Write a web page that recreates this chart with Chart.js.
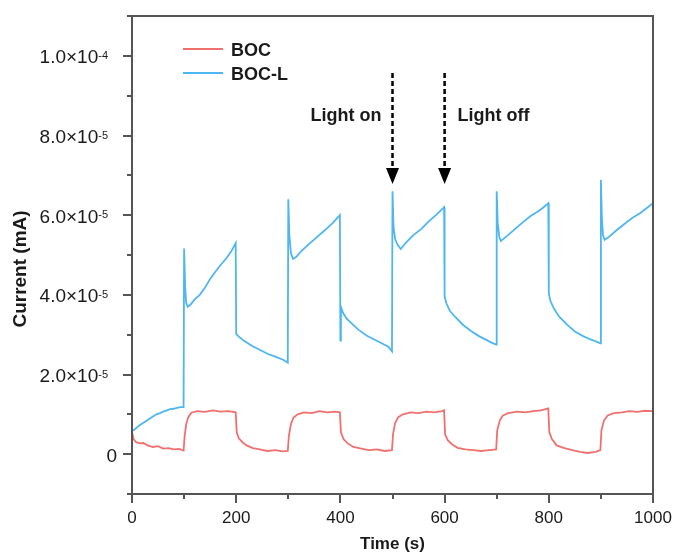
<!DOCTYPE html>
<html>
<head>
<meta charset="utf-8">
<script src="https://cdn.jsdelivr.net/npm/chart.js@4.4.1/dist/chart.umd.min.js"></script>
<style>
  html, body { margin: 0; padding: 0; background: #ffffff; }
  #wrap { width: 675px; height: 554px; position: relative; }
</style>
</head>
<body>
<div id="wrap"><canvas id="c" width="675" height="554"></canvas></div>
<script>
// ---- data (time in s, current in mA) ----
const seriesNames = ["BOC", "BOC-L"];
const xTickValues = [0, 200, 400, 600, 800, 1000];
const yTickValues = [0, 2e-5, 4e-5, 6e-5, 8e-5, 1e-4];
const yTickMantissa = ["0", "2.0×10", "4.0×10", "6.0×10", "8.0×10", "1.0×10"];
const yTickExponent = ["", "-5", "-5", "-5", "-5", "-4"];
const annotationTimes = [500, 600];
const annotationLabels = ["Light on", "Light off"];

const bocTime = [0,3,8,15,22,30,40,50,60,70,80,90,99,
  101,104,108,114,125,140,155,170,185,199,
  201,205,212,220,232,245,260,275,290,299,
  301,305,310,318,330,345,360,375,390,399,
  401,406,414,425,440,455,470,485,499,
  501,505,511,520,535,550,565,580,595,599,
  601,606,614,625,640,655,670,685,699,
  701,706,712,722,740,755,770,785,799,
  801,806,815,830,845,860,875,890,899,
  901,906,913,925,940,955,970,985,1000];
const bocCurrent = [0.56e-5,0.38e-5,0.3e-5,0.27e-5,0.28e-5,0.22e-5,0.18e-5,0.2e-5,0.14e-5,0.15e-5,0.12e-5,0.13e-5,0.09e-5,
  0.45e-5,0.75e-5,0.93e-5,1.04e-5,1.08e-5,1.06e-5,1.1e-5,1.07e-5,1.08e-5,1.05e-5,
  0.55e-5,0.4e-5,0.3e-5,0.22e-5,0.15e-5,0.12e-5,0.08e-5,0.1e-5,0.07e-5,0.08e-5,
  0.45e-5,0.75e-5,0.92e-5,1.0e-5,1.05e-5,1.03e-5,1.08e-5,1.05e-5,1.07e-5,1.05e-5,
  0.55e-5,0.38e-5,0.27e-5,0.18e-5,0.14e-5,0.1e-5,0.12e-5,0.08e-5,0.1e-5,
  0.5e-5,0.78e-5,0.93e-5,1.0e-5,1.05e-5,1.03e-5,1.07e-5,1.05e-5,1.08e-5,1.1e-5,
  0.5e-5,0.35e-5,0.25e-5,0.16e-5,0.12e-5,0.1e-5,0.08e-5,0.1e-5,0.12e-5,
  0.6e-5,0.85e-5,0.97e-5,1.03e-5,1.07e-5,1.05e-5,1.08e-5,1.1e-5,1.15e-5,
  0.55e-5,0.38e-5,0.22e-5,0.15e-5,0.1e-5,0.06e-5,0.03e-5,0.06e-5,0.1e-5,
  0.6e-5,0.85e-5,0.97e-5,1.03e-5,1.05e-5,1.08e-5,1.06e-5,1.09e-5,1.08e-5];

const boclTime = [0,5,10,16,22,28,35,41,47,54,60,67,73,80,86,93,99,
  100,102,104,107,112,120,130,140,150,160,170,180,190,199,
  200,205,215,230,245,260,275,290,299,
  300,302,305,309,315,325,340,355,370,385,399,
  400,401,405,412,420,435,450,465,480,492,499,
  500,502,505,510,516,525,540,555,570,585,599,
  600,603,610,620,635,650,665,680,690,699,
  700,702,705,708,720,735,750,765,780,790,799,
  800,803,810,820,835,850,865,880,890,899,
  900,902,904,907,915,930,945,960,975,990,1000];
const boclCurrent = [0.58e-5,0.62e-5,0.68e-5,0.74e-5,0.79e-5,0.84e-5,0.9e-5,0.95e-5,1.0e-5,1.03e-5,1.07e-5,1.1e-5,1.13e-5,1.14e-5,1.16e-5,1.18e-5,1.18e-5,
  5.16e-5,4.2e-5,3.8e-5,3.7e-5,3.75e-5,3.88e-5,4.0e-5,4.18e-5,4.4e-5,4.58e-5,4.75e-5,4.9e-5,5.08e-5,5.3e-5,
  3.02e-5,2.95e-5,2.85e-5,2.72e-5,2.62e-5,2.52e-5,2.45e-5,2.37e-5,2.3e-5,
  6.4e-5,5.5e-5,5.05e-5,4.9e-5,4.95e-5,5.1e-5,5.28e-5,5.45e-5,5.62e-5,5.8e-5,6.0e-5,
  2.85e-5,3.7e-5,3.55e-5,3.4e-5,3.3e-5,3.12e-5,2.98e-5,2.88e-5,2.78e-5,2.7e-5,2.58e-5,
  6.6e-5,5.7e-5,5.4e-5,5.25e-5,5.15e-5,5.3e-5,5.5e-5,5.65e-5,5.85e-5,6.02e-5,6.2e-5,
  3.97e-5,3.8e-5,3.6e-5,3.45e-5,3.25e-5,3.1e-5,2.97e-5,2.87e-5,2.8e-5,2.75e-5,
  6.6e-5,5.8e-5,5.45e-5,5.35e-5,5.48e-5,5.65e-5,5.82e-5,5.98e-5,6.1e-5,6.2e-5,6.3e-5,
  4.05e-5,3.85e-5,3.65e-5,3.45e-5,3.25e-5,3.08e-5,2.97e-5,2.88e-5,2.83e-5,2.78e-5,
  6.88e-5,5.9e-5,5.5e-5,5.38e-5,5.45e-5,5.62e-5,5.78e-5,5.93e-5,6.05e-5,6.2e-5,6.3e-5];

// ---- styles ----
const FONT = '"Liberation Sans", Arial, Helvetica, sans-serif';
const AXIS_COLOR = '#555555';
const TEXT_COLOR = '#1a1a1a';
const RED = 'rgb(240,112,112)';
const BLUE = 'rgb(78,182,240)';

function toXY(ts, vs) { return ts.map((t, i) => ({ x: t, y: vs[i] })); }

const decorPlugin = {
  id: 'decor',
  afterDatasetsDraw(chart) {
    const ctx = chart.ctx;
    const xs = chart.scales.x, ys = chart.scales.y;
    const a = chart.chartArea;
    ctx.save();
    // frame
    ctx.strokeStyle = AXIS_COLOR;
    ctx.lineWidth = 2;
    ctx.strokeRect(a.left, a.top, a.right - a.left, a.bottom - a.top);
    // y ticks
    for (let v = -1; v <= 11; v++) {
      const py = Math.round(ys.getPixelForValue(v * 1e-5));
      const len = (v % 2 === 0) ? 9 : 5;
      ctx.beginPath(); ctx.moveTo(a.left - len, py); ctx.lineTo(a.left, py); ctx.stroke();
    }
    // x ticks
    for (let t = 0; t <= 1000; t += 100) {
      const px = Math.round(xs.getPixelForValue(t));
      const len = (t % 200 === 0) ? 9 : 5;
      ctx.beginPath(); ctx.moveTo(px, a.bottom); ctx.lineTo(px, a.bottom + len); ctx.stroke();
    }
    // x labels
    ctx.fillStyle = TEXT_COLOR;
    ctx.font = '17px ' + FONT;
    ctx.textAlign = 'center';
    ctx.textBaseline = 'alphabetic';
    xTickValues.forEach(t => {
      ctx.fillText(String(t), xs.getPixelForValue(t), a.bottom + 29);
    });
    // y labels with superscripts
    yTickValues.forEach((v, i) => {
      const py = ys.getPixelForValue(v);
      if (!yTickExponent[i]) {
        ctx.font = '19px ' + FONT;
        ctx.textAlign = 'right';
        ctx.fillText(yTickMantissa[i], a.left - 15, py + 7.5);
      } else {
        ctx.font = '11px ' + FONT;
        ctx.textAlign = 'right';
        const expX = a.left - 24;
        ctx.fillText(yTickExponent[i], expX, py + 3);
        const ew = ctx.measureText(yTickExponent[i]).width;
        ctx.font = '19px ' + FONT;
        ctx.fillText(yTickMantissa[i], expX - ew, py + 7.5);
      }
    });
    // axis titles
    ctx.font = 'bold 17px ' + FONT;
    ctx.textAlign = 'center';
    ctx.fillText('Time (s)', (a.left + a.right) / 2, 549);
    ctx.save();
    ctx.translate(26, 269);
    ctx.rotate(-Math.PI / 2);
    ctx.font = 'bold 19px ' + FONT;
    ctx.fillText('Current (mA)', 0, 0);
    ctx.restore();
    // legend
    const legendColors = [RED, BLUE];
    seriesNames.forEach((n, i) => {
      const ly = 49 + i * 24;
      ctx.strokeStyle = legendColors[i];
      ctx.lineWidth = 1.8;
      ctx.beginPath(); ctx.moveTo(183, ly); ctx.lineTo(223, ly); ctx.stroke();
      ctx.fillStyle = TEXT_COLOR;
      ctx.font = 'bold 18px ' + FONT;
      ctx.textAlign = 'left';
      ctx.fillText(n, 231, ly + 6.5);
    });
    // annotation arrows
    annotationTimes.forEach((t, i) => {
      const px = xs.getPixelForValue(t);
      const yTop = 73, yHead = 168, yTip = 184;
      ctx.strokeStyle = '#000';
      ctx.lineWidth = 2.5;
      ctx.setLineDash([5, 3]);
      ctx.beginPath(); ctx.moveTo(px, yTop); ctx.lineTo(px, yHead); ctx.stroke();
      ctx.setLineDash([]);
      ctx.fillStyle = '#000';
      ctx.beginPath();
      ctx.moveTo(px - 6.5, yHead); ctx.lineTo(px + 6.5, yHead); ctx.lineTo(px, yTip); ctx.closePath(); ctx.fill();
      ctx.font = 'bold 18px ' + FONT;
      ctx.fillStyle = TEXT_COLOR;
      if (i === 0) { ctx.textAlign = 'right'; ctx.fillText(annotationLabels[i], px - 11, 121); }
      else { ctx.textAlign = 'left'; ctx.fillText(annotationLabels[i], px + 13, 121); }
    });
    ctx.restore();
  }
};

new Chart(document.getElementById('c'), {
  type: 'line',
  data: {
    datasets: [
      { label: seriesNames[0], data: toXY(bocTime, bocCurrent), borderColor: RED, borderWidth: 1.8, pointRadius: 0, tension: 0, fill: false },
      { label: seriesNames[1], data: toXY(boclTime, boclCurrent), borderColor: BLUE, borderWidth: 1.8, pointRadius: 0, tension: 0, fill: false }
    ]
  },
  options: {
    responsive: false,
    animation: false,
    devicePixelRatio: 1,
    layout: { padding: { left: 132, top: 16, right: 22, bottom: 60 } },
    plugins: { legend: { display: false }, tooltip: { enabled: false } },
    scales: {
      x: { type: 'linear', min: 0, max: 1000, display: false },
      y: { type: 'linear', min: -1e-5, max: 1.1e-4, display: false }
    }
  },
  plugins: [decorPlugin]
});
</script>
</body>
</html>
